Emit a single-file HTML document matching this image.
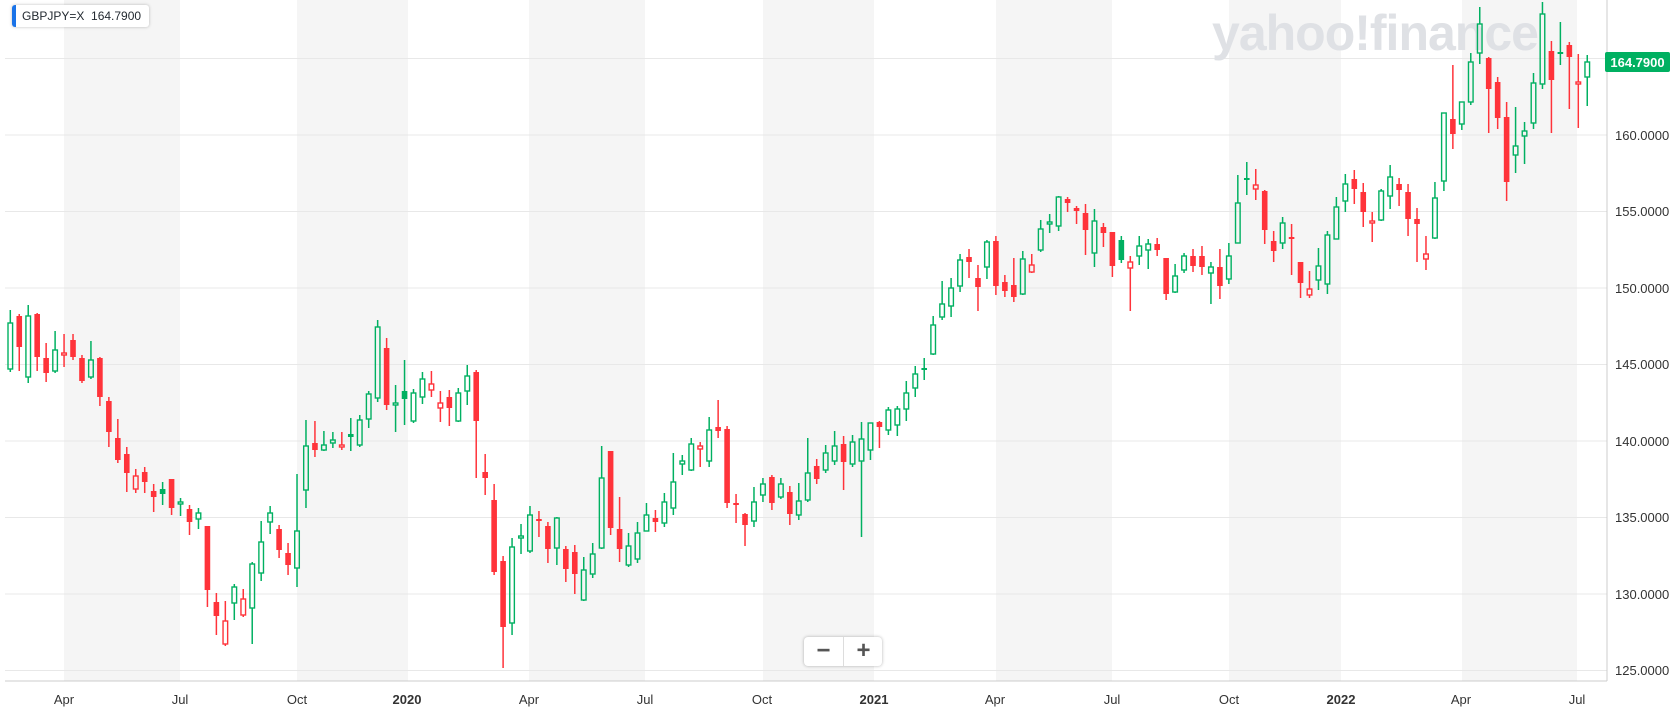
<!DOCTYPE html>
<html><head><meta charset="utf-8">
<style>
html,body{margin:0;padding:0;background:#fff;width:1676px;height:716px;overflow:hidden;font-family:"Liberation Sans",sans-serif;}
#wrap{position:relative;width:1676px;height:716px;}
svg{position:absolute;left:0;top:0;}
.chip{position:absolute;left:12px;top:5px;height:22px;padding:0 8px 0 10px;background:#fff;border-radius:3px;box-shadow:0 0 3px rgba(0,0,0,.25);font-size:12px;line-height:22px;color:#232a31;}
.chip:before{content:"";position:absolute;left:0;top:0;width:4px;height:22px;background:#1a73e8;border-radius:3px 0 0 3px;}
.zoom{position:absolute;left:804px;top:637px;width:78px;height:29px;background:#fff;border-radius:4px;box-shadow:0 0 3px rgba(0,0,0,.3);}
.zoom span{position:absolute;top:0;width:39px;height:29px;text-align:center;line-height:28px;font-size:24px;font-weight:bold;color:#555;}
</style></head><body><div id="wrap">
<svg id="c" width="1676" height="716" xmlns="http://www.w3.org/2000/svg">
<g id="bands" fill="#f5f5f5">
<rect x="64" y="0" width="116" height="681"/>
<rect x="297" y="0" width="111" height="681"/>
<rect x="529" y="0" width="116" height="681"/>
<rect x="763" y="0" width="111" height="681"/>
<rect x="996" y="0" width="116" height="681"/>
<rect x="1229" y="0" width="112" height="681"/>
<rect x="1462" y="0" width="115" height="681"/>
</g>
<g stroke="#e8e8e8" stroke-width="1">
<line x1="5" x2="1607" y1="58.5" y2="58.5"/>
<line x1="5" x2="1607" y1="135" y2="135"/>
<line x1="5" x2="1607" y1="211.5" y2="211.5"/>
<line x1="5" x2="1607" y1="288" y2="288"/>
<line x1="5" x2="1607" y1="364.5" y2="364.5"/>
<line x1="5" x2="1607" y1="441" y2="441"/>
<line x1="5" x2="1607" y1="517.5" y2="517.5"/>
<line x1="5" x2="1607" y1="594" y2="594"/>
<line x1="5" x2="1607" y1="670.5" y2="670.5"/>
</g>
<text x="1375" y="50" text-anchor="middle" font-family="Liberation Sans, sans-serif" font-weight="bold" font-size="50" fill="#dfe1e5" letter-spacing="-1">yahoo!finance</text>
<line x1="1607" y1="0" x2="1607" y2="681" stroke="#ccc"/>
<line x1="5" y1="681" x2="1607" y2="681" stroke="#ccc"/>
<g id="cd"></g>
<g font-family="Liberation Sans, sans-serif" font-size="13" fill="#333">
<text x="1615" y="140">160.0000</text>
<text x="1615" y="216">155.0000</text>
<text x="1615" y="293">150.0000</text>
<text x="1615" y="369">145.0000</text>
<text x="1615" y="446">140.0000</text>
<text x="1615" y="522">135.0000</text>
<text x="1615" y="599">130.0000</text>
<text x="1615" y="675">125.0000</text>
</g>
<rect x="1605" y="52" width="65" height="20" rx="2" fill="#00b061"/>
<text x="1637.5" y="67" text-anchor="middle" font-family="Liberation Sans, sans-serif" font-size="13" font-weight="bold" fill="#fff">164.7900</text>
<g font-family="Liberation Sans, sans-serif" font-size="13" fill="#333" text-anchor="middle">
<text x="64" y="704">Apr</text><text x="180" y="704">Jul</text><text x="297" y="704">Oct</text>
<text x="407" y="704" font-weight="bold">2020</text>
<text x="529" y="704">Apr</text><text x="645" y="704">Jul</text><text x="762" y="704">Oct</text>
<text x="874" y="704" font-weight="bold">2021</text>
<text x="995" y="704">Apr</text><text x="1112" y="704">Jul</text><text x="1229" y="704">Oct</text>
<text x="1341" y="704" font-weight="bold">2022</text>
<text x="1461" y="704">Apr</text><text x="1577" y="704">Jul</text>
</g>
</svg>
<div class="chip">GBPJPY=X&nbsp; 164.7900</div>
<div class="zoom"><span style="left:0">−</span><span style="left:39px;border-left:1px solid #ddd">+</span></div>
</div>
<script>
var D=[[310,323,369,372,'gh'],[314,316,347,371,'rf'],[305,316,377,383,'gh'],[313,314,357,371,'rf'],[343,358,373,382,'rf'],[331,350,371,373,'gh'],[334,353,355,367,'rh'],[334,340,357,360,'rf'],[355,358,381,383,'rf'],[341,360,377,379,'gh'],
[357,358,397,406,'rf'],[397,401,432,447,'rf'],[419,438,460,463,'rf'],[447,454,473,492,'rf'],[469,476,489,493,'rh'],[467,472,482,493,'rf'],[484,491,497,512,'rf'],[482,489,494,505,'gf'],[479,479,508,515,'rf'],[498,502,504,516,'gh'],
[505,509,522,535,'rf'],[508,513,519,529,'gh'],[526,526,590,607,'rf'],[593,602,616,635,'rf'],[601,621,644,646,'rh'],[584,587,603,620,'gh'],[589,599,615,617,'rh'],[562,564,608,644,'gh'],[521,542,573,581,'gh'],[506,513,522,534,'gh'],
[525,529,550,558,'rf'],[543,553,565,575,'rf'],[474,531,568,587,'gh'],[420,446,490,508,'gh'],[421,443,450,457,'rf'],[431,445,450,451,'gh'],[432,440,443,448,'gh'],[432,445,447,450,'rh'],[418,434,437,451,'gf'],[415,420,445,447,'gh'],
[391,394,419,428,'gh'],[320,327,398,402,'gh'],[338,348,405,410,'rf'],[385,403,405,432,'gh'],[360,391,399,425,'gf'],[389,393,421,423,'gh'],[372,379,397,404,'gh'],[371,384,390,397,'rh'],[391,403,408,422,'rh'],[390,397,408,426,'rf'],
[388,393,421,422,'gh'],[365,376,391,405,'gh'],[370,372,421,478,'rf'],[454,472,478,495,'rf'],[484,500,572,575,'rf'],[556,561,627,668,'rf'],[538,547,623,635,'gh'],[524,536,538,554,'gh'],[506,515,551,553,'gh'],[511,519,521,537,'rf'],
[522,526,549,563,'rf'],[517,518,548,565,'gh'],[546,549,569,582,'rf'],[545,552,574,594,'rf'],[557,570,600,601,'gh'],[543,554,574,578,'gh'],[446,478,548,549,'gh'],[451,451,528,535,'rf'],[497,529,549,562,'rf'],[533,546,565,567,'gh'],
[522,533,559,563,'gh'],[503,515,531,531,'gh'],[510,518,522,532,'rf'],[493,502,523,527,'gh'],[453,482,508,515,'gh'],[455,461,464,475,'gh'],[438,444,470,471,'gh'],[442,446,449,467,'rh'],[417,430,461,467,'gh'],[400,427,431,438,'rf'],
[426,429,503,508,'rf'],[494,503,505,523,'rf'],[513,514,525,546,'rf'],[487,502,521,527,'gh'],[478,484,495,502,'gh'],[475,477,503,510,'rf'],[478,484,497,499,'gh'],[486,492,514,525,'rf'],[483,501,515,520,'gh'],[438,473,500,502,'gh'],
[459,466,479,484,'rf'],[445,453,470,473,'gh'],[431,446,461,465,'gh'],[436,444,462,490,'rf'],[435,442,464,467,'gh'],[422,439,461,537,'gh'],[423,423,450,460,'gh'],[421,422,427,448,'rf'],[407,410,430,435,'gh'],[406,409,425,436,'gh'],
[381,393,409,421,'gh'],[366,374,388,397,'gh'],[358,368,370,380,'gf'],[316,325,354,355,'gh'],[281,304,317,320,'gh'],[278,288,306,317,'gh'],[254,260,286,292,'gh'],[249,257,262,278,'rf'],[265,278,287,311,'rf'],[240,242,267,279,'gh'],
[236,241,286,295,'rf'],[275,282,291,297,'rf'],[258,285,297,302,'rf'],[251,259,294,295,'gh'],[254,265,272,273,'rh'],[220,229,250,252,'gh'],[214,222,224,233,'gh'],[196,197,226,231,'gh'],[197,199,203,212,'rf'],[206,208,211,224,'rf'],
[204,213,230,255,'rf'],[209,221,253,267,'gh'],[223,227,233,247,'rf'],[232,232,266,277,'rf'],[236,240,260,263,'gf'],[256,262,268,311,'rh'],[236,246,256,265,'gh'],[239,244,250,269,'gh'],[238,244,250,256,'rf'],[258,258,294,300,'rf'],
[264,276,292,293,'gh'],[253,256,270,273,'gh'],[249,256,266,272,'rf'],[246,256,267,275,'rf'],[262,267,273,304,'gh'],[249,267,286,299,'rf'],[243,256,279,284,'gh'],[175,203,243,243,'gh'],[162,178,180,195,'gf'],[169,185,189,200,'rh'],
[190,191,230,244,'rf'],[231,241,251,262,'rf'],[217,223,243,249,'gh'],[224,237,239,275,'rf'],[262,262,283,298,'rf'],[271,289,295,298,'rh'],[248,266,280,290,'gh'],[231,235,284,294,'gh'],[197,207,239,239,'gh'],[174,184,201,212,'gh'],
[170,179,189,204,'rf'],[183,192,212,227,'rf'],[212,221,223,242,'rh'],[189,191,220,221,'gh'],[165,177,196,209,'gh'],[178,184,190,206,'rf'],[184,192,219,236,'rf'],[208,219,224,262,'rf'],[236,254,259,270,'rh'],[182,198,238,239,'gh'],
[113,113,181,191,'gh'],[65,119,134,149,'rf'],[102,102,124,130,'gh'],[53,62,102,105,'gh'],[7,24,53,64,'gh'],[57,58,89,133,'rf'],[77,82,118,129,'rf'],[102,117,182,201,'rf'],[107,146,155,173,'gh'],[122,131,136,164,'gh'],
[73,83,123,129,'gh'],[2,14,84,89,'gh'],[41,51,80,133,'rf'],[22,52,54,65,'gf'],[42,45,57,109,'rf'],[54,82,84,128,'rh'],[55,62,77,106,'gh']];
var g=document.getElementById('cd'),ns='http://www.w3.org/2000/svg',s='';
for(var i=0;i<D.length;i++){var d=D[i],x=10.3+i*8.96,col=d[4][0]=='g'?'#00b061':'#ff333a',fill=d[4][1]=='f';
var hi=d[0],t=d[1],b=Math.max(d[2],d[1]+2),lo=d[3];
if(fill){s+='<line x1="'+x+'" x2="'+x+'" y1="'+hi+'" y2="'+lo+'" stroke="'+col+'" stroke-width="1.5"/>';
s+='<rect x="'+(x-2.8)+'" y="'+t+'" width="5.6" height="'+(b-t)+'" fill="'+col+'"/>';}
else{s+='<line x1="'+x+'" x2="'+x+'" y1="'+hi+'" y2="'+t+'" stroke="'+col+'" stroke-width="1.5"/>';
s+='<line x1="'+x+'" x2="'+x+'" y1="'+b+'" y2="'+lo+'" stroke="'+col+'" stroke-width="1.5"/>';
s+='<rect x="'+(x-2.3)+'" y="'+t+'" width="4.6" height="'+(b-t)+'" fill="none" stroke="'+col+'" stroke-width="1.4"/>';}}
g.innerHTML=s;
</script>
</body></html>
